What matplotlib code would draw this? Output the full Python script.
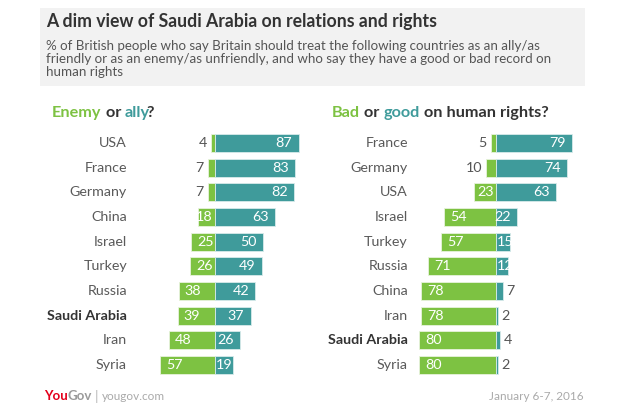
import matplotlib
matplotlib.use("Agg")
import matplotlib.pyplot as plt
from matplotlib.patches import Rectangle

plt.rcParams['font.family'] = ['Lato', 'DejaVu Sans']

# ---- data ----
left_countries = ["USA", "France", "Germany", "China", "Israel", "Turkey",
                  "Russia", "Saudi Arabia", "Iran", "Syria"]
left_enemy = [4, 7, 7, 18, 25, 26, 38, 39, 48, 57]
left_ally = [87, 83, 82, 63, 50, 49, 42, 37, 26, 19]

right_countries = ["France", "Germany", "USA", "Israel", "Turkey", "Russia",
                   "China", "Iran", "Saudi Arabia", "Syria"]
right_bad = [5, 10, 23, 54, 57, 71, 78, 78, 80, 80]
right_good = [79, 74, 63, 22, 15, 12, 7, 2, 4, 2]

GREEN = "#7dc242"
TEAL = "#3f9b9b"
DARK = "#333333"
GRAY = "#555555"

W, H = 625, 415
fig = plt.figure(figsize=(W / 100, H / 100), dpi=100)
fig.patch.set_facecolor("white")

PX = 0.96          # pixels per percentage point
ROW0, ROWH = 143, 24.67  # pixel y of first row, row spacing


def make_axes(x0, x1, zero_px):
    ax = fig.add_axes([x0 / W, 0, (x1 - x0) / W, 1])
    ax.set_xlim((x0 - zero_px) / PX, (x1 - zero_px) / PX)
    ax.set_ylim((H - ROW0) / ROWH, -ROW0 / ROWH)
    ax.axis("off")
    return ax


def draw_panel(ax, zero_px, label_px, countries, neg, pos, thr_neg, thr_pos):
    n = len(countries)
    ys = list(range(n))
    bh = 0.74
    ax.barh(ys, [-v for v in neg], height=bh, color=GREEN,
            edgecolor="#e8f3dc", linewidth=0.6)
    ax.barh(ys, pos, height=bh, color=TEAL,
            edgecolor="#d8ebeb", linewidth=0.6)
    lab_x = (label_px - zero_px) / PX
    for i, c in enumerate(countries):
        bold = c == "Saudi Arabia"
        ax.text(lab_x, i, c, ha="right", va="center", fontsize=10.3,
                color=DARK if bold else "#5a5a5a",
                fontweight="bold" if bold else "normal")
        nv, pv = neg[i], pos[i]
        # negative (green) values
        if nv < 12:
            ax.text(-nv - 4.5, i, str(nv), ha="right", va="center",
                    fontsize=10.3, color=GRAY)
        elif nv < thr_neg:
            ax.text(-2.5, i, str(nv), ha="right", va="center",
                    fontsize=10.3, color="white")
        else:
            ax.text(-nv + 6.5, i, str(nv), ha="left", va="center",
                    fontsize=10.3, color="white")
        # positive (teal) values
        if pv < 10:
            ax.text(pv + 4, i, str(pv), ha="left", va="center",
                    fontsize=10.3, color=GRAY)
        elif pv < thr_pos:
            ax.text(0.8, i, str(pv), ha="left", va="center",
                    fontsize=10.3, color="white")
        else:
            ax.text(pv - 6.5, i, str(pv), ha="right", va="center",
                    fontsize=10.3, color="white")


axL = make_axes(0, 312, 215)
draw_panel(axL, 215, 127, left_countries, left_enemy, left_ally, 22, 22)
axR = make_axes(312, 625, 496)
draw_panel(axR, 496, 408, right_countries, right_bad, right_good, 25, 20)

# ---- header box ----
fig.patches.append(Rectangle((40 / W, 1 - 86 / H), 545 / W, 78 / H,
                             transform=fig.transFigure, facecolor="#f2f2f2",
                             edgecolor="none", zorder=0))
fig.text(46 / W, 1 - 21 / H, "A dim view of Saudi Arabia on relations and rights",
         fontsize=12.7, fontweight="bold", color="#333333", va="center")
sub = ("% of British people who say Britain should treat the following countries as an ally/as\n"
       "friendly or as an enemy/as unfriendly, and who say they have a good or bad record on\n"
       "human rights")
fig.text(46 / W, 1 - 40 / H, sub, fontsize=9.6, color="#555555", va="top",
         linespacing=1.08)

# ---- panel headers ----
fig.canvas.draw()
renderer = fig.canvas.get_renderer()


def text_width(s, **kw):
    t = fig.text(0, 0, s, **kw)
    w = t.get_window_extent(renderer).width
    t.remove()
    return w


def header(x_px, parts):
    y = 1 - 113 / H
    kw = dict(fontsize=11.7, fontweight="bold")
    prefix = ""
    for s, col, kern in parts:
        if prefix:
            off = text_width(prefix + s, **kw) - text_width(s, **kw)
        else:
            off = 0
        fig.text((x_px + off + kern) / W, y, s, color=col, va="center", **kw)
        prefix += s

header(52, [("Enemy", GREEN, 0), (" or ", DARK, 0), ("ally", TEAL, 0), ("?", DARK, -3.5)])
header(332, [("Bad", GREEN, 0), (" or ", DARK, 0), ("good", TEAL, 0),
             (" on human rights?", DARK, 0)])

# ---- footer ----
t = fig.text(44 / W, 1 - 396 / H, "You", fontsize=9.5, fontweight="bold",
             color="#e3001b", va="center")
fig.canvas.draw()
x = t.get_window_extent().x1
t2 = fig.text(x / W, 1 - 396 / H, "Gov", fontsize=9.5, fontweight="bold",
              color="#9a9a9a", va="center")
fig.canvas.draw()
x = t2.get_window_extent().x1
fig.text(x / W + 0.004, 1 - 396 / H, "|", fontsize=10, color="#bbbbbb", va="center")
fig.text(x / W + 0.015, 1 - 396 / H, "yougov.com", fontsize=8.5, color="#aaaaaa",
         va="center")
fig.text(584 / W, 1 - 396 / H, "January 6-7, 2016", fontsize=8.5, color="#aaaaaa",
         va="center", ha="right")

fig.savefig("out.png", dpi=100)
